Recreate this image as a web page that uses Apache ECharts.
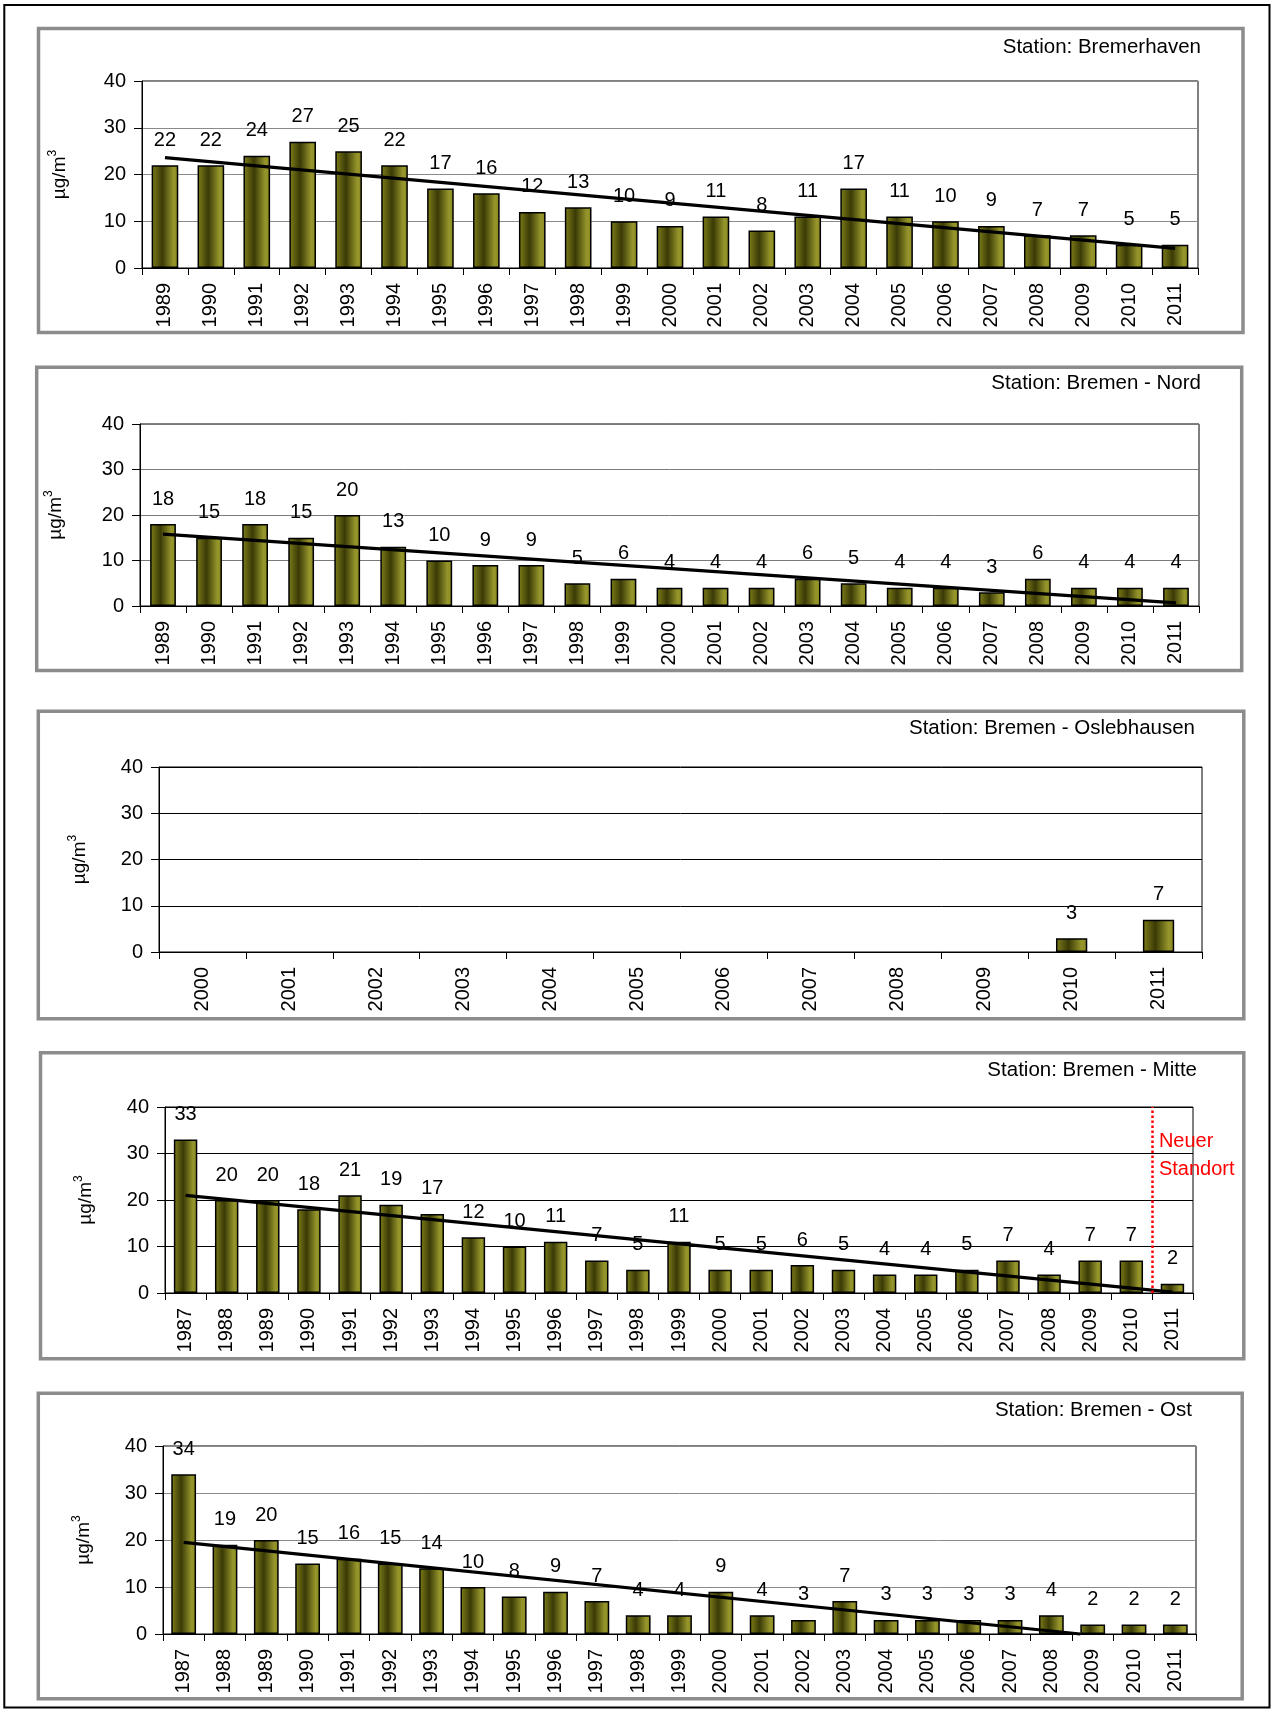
<!DOCTYPE html>
<html>
<head>
<meta charset="utf-8">
<title>PM10 – Jahresmittelwerte</title>
<script src="https://cdn.jsdelivr.net/npm/echarts@6/dist/echarts.min.js"></script>
<style>
  html, body { margin: 0; padding: 0; background: #fff; }
  #chart { width: 1271px; height: 1713px; }
</style>
</head>
<body>
<div id="chart"></div>
<script>
// ---- data -------------------------------------------------------------
const yearsFrom1989 = ['1989','1990','1991','1992','1993','1994','1995','1996','1997','1998','1999','2000',
                       '2001','2002','2003','2004','2005','2006','2007','2008','2009','2010','2011'];
const yearsFrom1987 = ['1987','1988','1989','1990','1991','1992','1993','1994','1995','1996','1997','1998','1999',
                       '2000','2001','2002','2003','2004','2005','2006','2007','2008','2009','2010','2011'];
const yearsFrom2000 = ['2000','2001','2002','2003','2004','2005','2006','2007','2008','2009','2010','2011'];

const bremerhavenValues = [22,22,24,27,25,22,17,16,12,13,10,9,11,8,11,17,11,10,9,7,7,5,5];
const bremerhavenTrend  = [[1989, 23.6], [2011, 4.2]];

const nordValues = [18,15,18,15,20,13,10,9,9,5,6,4,4,4,6,5,4,4,3,6,4,4,4];
const nordTrend  = [[1989, 15.8], [2011, 0.7]];

const oslebhausenValues = [null,null,null,null,null,null,null,null,null,null,3,7];

const mitteValues = [33,20,20,18,21,19,17,12,10,11,7,5,11,5,5,6,5,4,4,5,7,4,7,7,2];
const mitteTrend  = [[1987, 21.0], [2011, 0.2]];
const mitteSiteChange = 2010.5;   // between 2010 and 2011

const ostValues = [34,19,20,15,16,15,14,10,8,9,7,4,4,9,4,3,7,3,3,3,3,4,2,2,2];
const ostTrend  = [[1987, 19.5], [2008.7, 0]];

const yTicks = { min: 0, max: 40, interval: 10 };

// ---- layout -----------------------------------------------------------
const FONT = '"Liberation Sans", Arial, sans-serif';

const panels = [
  { title: 'Station: Bremerhaven', years: yearsFrom1989, values: bremerhavenValues, trend: bremerhavenTrend,
    frame: [38.5, 28.5, 1204.5, 304], grid: [142, 81, 1056, 187], titleAt: [1201, 47],
    nameGap: 73, barWidth: '58%', gridColor: '#8a8a8a' },
  { title: 'Station: Bremen - Nord', years: yearsFrom1989, values: nordValues, trend: nordTrend,
    frame: [36.7, 367.2, 1205, 303.3], grid: [140, 424, 1059, 182], titleAt: [1201, 383.5],
    nameGap: 75, barWidth: '56%', gridColor: '#7a7a7a' },
  { title: 'Station: Bremen - Oslebhausen', years: yearsFrom2000, values: oslebhausenValues, trend: null,
    frame: [38.3, 711.3, 1205.5, 307.5], grid: [159, 767, 1043, 185], titleAt: [1195, 728.5],
    nameGap: 70, barWidth: '36%', gridColor: '#000' },
  { title: 'Station: Bremen - Mitte', years: yearsFrom1987, values: mitteValues, trend: mitteTrend,
    frame: [40.5, 1052.8, 1203.3, 305.9], grid: [165, 1107, 1028, 186], titleAt: [1197, 1070],
    nameGap: 70, barWidth: '57%', gridColor: '#000', siteChange: mitteSiteChange },
  { title: 'Station: Bremen - Ost', years: yearsFrom1987, values: ostValues, trend: ostTrend,
    frame: [38.3, 1393.2, 1203.9, 305.6], grid: [163, 1446, 1033, 188], titleAt: [1192, 1410],
    nameGap: 70, barWidth: '60%', gridColor: '#8a8a8a' }
];

const barFill = {
  type: 'linear', x: 0, y: 0, x2: 1, y2: 0,
  colorStops: [
    { offset: 0.00, color: '#80801a' },
    { offset: 0.40, color: '#3a3a06' },
    { offset: 0.82, color: '#96962c' },
    { offset: 1.00, color: '#8a8a22' }
  ]
};

// unit label with a raised "3"
const unitName = '{u|µg/m}{s|3}';
const unitStyle = {
  color: '#000', fontFamily: FONT,
  rich: {
    u: { fontSize: 19, fontFamily: FONT, color: '#000', verticalAlign: 'bottom', lineHeight: 22 },
    s: { fontSize: 12, fontFamily: FONT, color: '#000', verticalAlign: 'top', lineHeight: 22 }
  }
};

// ---- option -----------------------------------------------------------
const grids = [], xAxes = [], yAxes = [], series = [];

panels.forEach((p, i) => {
  const [gl, gt, gw, gh] = p.grid;
  grids.push({ left: gl, top: gt, width: gw, height: gh, show: true,
               borderColor: '#000', borderWidth: 1, backgroundColor: 'transparent' });

  // category axis carrying the years
  xAxes.push({
    type: 'category', gridIndex: i, data: p.years,
    axisLine: { show: true, lineStyle: { color: '#000', width: 1 } },
    axisTick: { show: true, length: 7, interval: 0, lineStyle: { color: '#000' } },
    axisLabel: { interval: 0, rotate: 90, margin: 15, fontSize: 20, color: '#000', fontFamily: FONT },
    splitLine: { show: false }
  });
  // numeric year axis for the trend line and markers
  const first = +p.years[0], last = +p.years[p.years.length - 1];
  xAxes.push({ type: 'value', gridIndex: i, min: first - 0.5, max: last + 0.5, show: false });

  yAxes.push({
    type: 'value', gridIndex: i, min: yTicks.min, max: yTicks.max, interval: yTicks.interval,
    name: unitName, nameLocation: 'middle', nameGap: p.nameGap,
    nameTextStyle: unitStyle,
    axisLine: { show: true, lineStyle: { color: '#000', width: 1 } },
    axisTick: { show: true, length: 8, lineStyle: { color: '#000' } },
    axisLabel: { fontSize: 20, margin: 16, color: '#000', fontFamily: FONT },
    splitLine: { show: true, lineStyle: { color: p.gridColor, width: 1 } }
  });

  series.push({
    type: 'bar', xAxisIndex: 2 * i, yAxisIndex: i, data: p.values,
    barWidth: p.barWidth,
    itemStyle: { color: barFill, borderColor: '#000', borderWidth: 1.5 },
    label: { show: true, position: 'top', distance: 15, fontSize: 20, color: '#000', fontFamily: FONT },
    silent: true, z: 2
  });

  if (p.trend || p.siteChange) {
    const s = {
      type: 'line', xAxisIndex: 2 * i + 1, yAxisIndex: i,
      data: p.trend || [],
      symbol: 'none', clip: false,
      lineStyle: { color: '#000', width: 3.2 },
      silent: true, z: 4
    };
    if (p.siteChange) {
      s.markLine = {
        silent: true, symbol: 'none', label: { show: false },
        lineStyle: { type: 'dotted', color: '#ff0000', width: 2.5 },
        data: [{ xAxis: p.siteChange }]
      };
    }
    series.push(s);
  }
});

const chart = echarts.init(document.getElementById('chart'), null, { renderer: 'canvas' });
chart.setOption({
  animation: false,
  backgroundColor: '#fff',
  textStyle: { fontFamily: FONT },
  grid: grids, xAxis: xAxes, yAxis: yAxes, series: series
});

// ---- frames, station titles and the site-change note -------------------
const graphics = [
  { type: 'rect', silent: true, z: 0,
    shape: { x: 4.3, y: 5, width: 1265.2, height: 1702.5 },
    style: { fill: 'none', stroke: '#000', lineWidth: 2 } }
];
panels.forEach((p) => {
  const [fx, fy, fw, fh] = p.frame;
  graphics.push({ type: 'rect', silent: true, z: 0,
    shape: { x: fx, y: fy, width: fw, height: fh },
    style: { fill: 'none', stroke: '#8c8c8c', lineWidth: 3.5 } });
  graphics.push({ type: 'text', silent: true, z: 10,
    x: p.titleAt[0], y: p.titleAt[1],
    style: { text: p.title, fill: '#000', font: '20.5px ' + FONT, align: 'right', verticalAlign: 'middle' } });
});

const mitteIdx = panels.findIndex(p => p.siteChange);
const lineX = chart.convertToPixel({ xAxisIndex: 2 * mitteIdx + 1 }, panels[mitteIdx].siteChange);
graphics.push({ type: 'text', silent: true, z: 10,
  x: lineX + 7, y: 1127,
  style: { text: 'Neuer\nStandort', fill: '#ff0000', font: '20px ' + FONT,
           lineHeight: 28, align: 'left', verticalAlign: 'top' } });

chart.setOption({ graphic: graphics });
</script>
</body>
</html>
